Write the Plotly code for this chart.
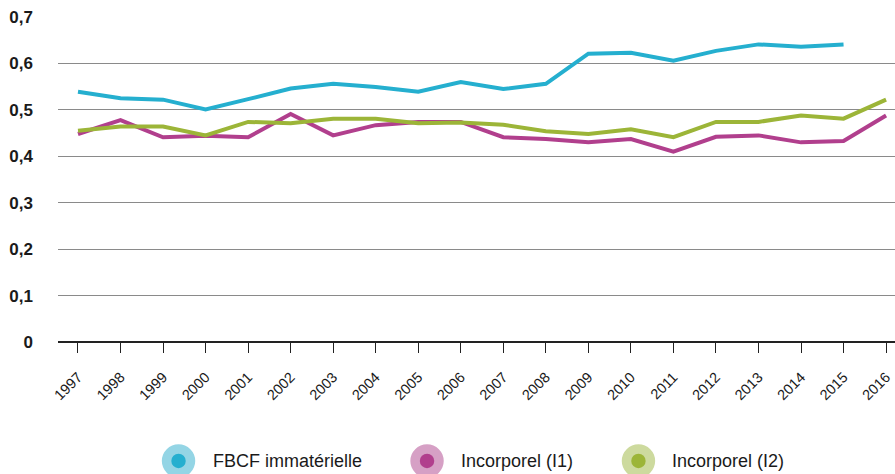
import plotly.graph_objects as go

# ── Data ──────────────────────────────────────
years = list(range(1997, 2017))

fbcf_immat = [0.539, 0.525, 0.522, 0.501, 0.523, 0.546, 0.556, 0.549, 0.539, 0.560,
              0.545, 0.556, 0.621, 0.623, 0.606, 0.627, 0.641, 0.636, 0.641, None]
incorp_i1 = [0.448, 0.478, 0.441, 0.444, 0.441, 0.491, 0.445, 0.467, 0.474, 0.474,
             0.441, 0.437, 0.430, 0.437, 0.410, 0.442, 0.445, 0.430, 0.433, 0.488]
incorp_i2 = [0.455, 0.464, 0.464, 0.445, 0.474, 0.471, 0.481, 0.481, 0.471, 0.473,
             0.468, 0.454, 0.448, 0.458, 0.441, 0.474, 0.474, 0.488, 0.481, 0.522]

y_ticks = [0, 0.1, 0.2, 0.3, 0.4, 0.5, 0.6, 0.7]
y_ticktext = ["0", "0,1", "0,2", "0,3", "0,4", "0,5", "0,6", "0,7"]

series_names = ["FBCF immatérielle", "Incorporel (I1)", "Incorporel (I2)"]
colors = ["#25AFCF", "#B13F8D", "#9CB538"]
halo = ["#94D5E5", "#D6A0C5", "#CDDA9E"]

FONT = "Liberation Sans, Arial, sans-serif"

fig = go.Figure()
for name, vals, col in zip(series_names, [fbcf_immat, incorp_i1, incorp_i2], colors):
    fig.add_trace(go.Scatter(
        x=years, y=vals, name=name, mode="lines",
        line=dict(color=col, width=4),
        showlegend=False,
    ))

# ── Custom legend (double circles + labels) ──
legend_x = [0.144, 0.4409, 0.6935]
legend_y = -0.366
for lx, col, hc, name in zip(legend_x, colors, halo, series_names):
    fig.add_shape(type="circle", xref="paper", yref="paper",
                  xanchor=lx, yanchor=legend_y, xsizemode="pixel", ysizemode="pixel",
                  x0=-16.7, x1=16.7, y0=-16.7, y1=16.7,
                  fillcolor=hc, line=dict(width=0))
    fig.add_shape(type="circle", xref="paper", yref="paper",
                  xanchor=lx, yanchor=legend_y, xsizemode="pixel", ysizemode="pixel",
                  x0=-7.2, x1=7.2, y0=-7.2, y1=7.2,
                  fillcolor=col, line=dict(width=0))
    fig.add_annotation(x=lx, y=legend_y, xref="paper", yref="paper",
                       xshift=32, text=name, showarrow=False,
                       xanchor="left", yanchor="middle",
                       font=dict(family=FONT, size=18, color="#1a1a1a"))

fig.update_layout(
    width=895, height=474,
    margin=dict(l=58, r=0, t=17, b=132, autoexpand=False),
    plot_bgcolor="white", paper_bgcolor="white",
    font=dict(family=FONT, color="#1a1a1a"),
    xaxis=dict(
        range=[1996.53, 2016.21],
        tickvals=years, ticktext=[str(y) for y in years],
        tickangle=-45, ticks="outside", ticklen=10, tickwidth=1.3, tickcolor="#222",
        tickfont=dict(size=14.5),
        ticklabelstandoff=10,
        showgrid=False, zeroline=False, showline=False,
        automargin=False,
    ),
    yaxis=dict(
        range=[0, 0.7],
        tickvals=y_ticks, ticktext=y_ticktext,
        tickfont=dict(size=17, family="Liberation Sans", weight="bold"),
        showgrid=True, gridcolor="#8a8a8a", gridwidth=1,
        zeroline=True, zerolinecolor="#222", zerolinewidth=2,
        ticklabelstandoff=24,
        automargin=False,
    ),
)

# the page's default body margin would shift the fixed-size figure
fig.write_html("out.html", config={"displayModeBar": False},
               post_script="document.body.style.margin='0';")
